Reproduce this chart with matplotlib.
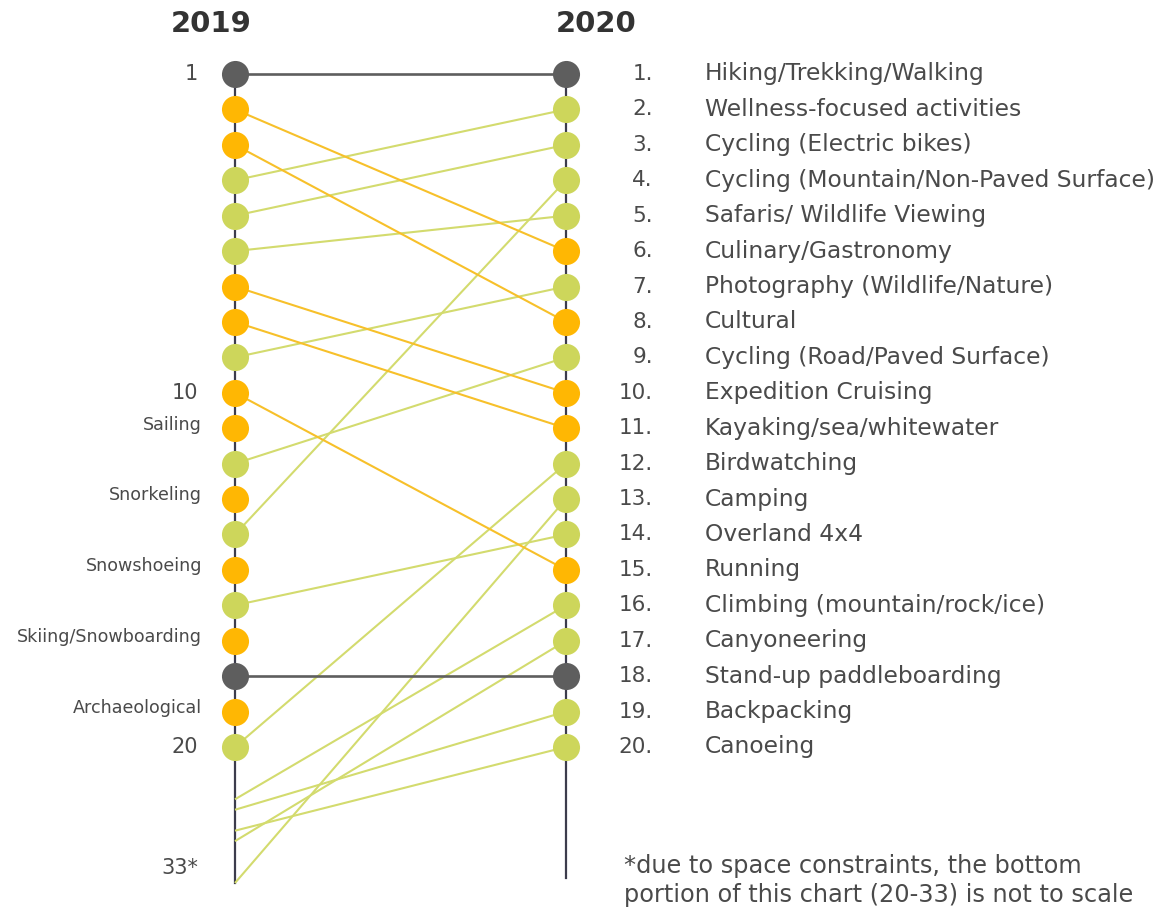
import numpy as np
import matplotlib
matplotlib.use("Agg")
import matplotlib.pyplot as plt

plt.rcParams['font.family'] = ['DejaVu Sans']

# 2020 top-20 list, with each activity's 2019 rank (ranks below 20 are estimated)
activities_2020 = [
    "Hiking/Trekking/Walking", "Wellness-focused activities", "Cycling (Electric bikes)",
    "Cycling (Mountain/Non-Paved Surface)", "Safaris/ Wildlife Viewing", "Culinary/Gastronomy",
    "Photography (Wildlife/Nature)", "Cultural", "Cycling (Road/Paved Surface)",
    "Expedition Cruising", "Kayaking/sea/whitewater", "Birdwatching", "Camping",
    "Overland 4x4", "Running", "Climbing (mountain/rock/ice)", "Canyoneering",
    "Stand-up paddleboarding", "Backpacking", "Canoeing",
]
rank_2020 = list(range(1, 21))
rank_2019 = [1, 4, 5, 14, 6, 2, 9, 3, 12, 7, 8, 20, 33, 16, 10, 25, 29, 18, 26, 28]

# 2019 top-20 entries that fell out of the 2020 top 20
dropped_names = ["Sailing", "Snorkeling", "Snowshoeing", "Skiing/Snowboarding", "Archaeological"]
dropped_rank_2019 = [11, 13, 15, 17, 19]

left_numbers = ["1", "10", "20", "33*"]
left_number_ranks = [1, 10, 20, 31.6]

footnote = ["*due to space constraints, the bottom",
            "portion of this chart (20-33) is not to scale"]

GRAY = "#5e5e5e"
ORANGE = "#ffb703"
GREEN = "#cdd65b"
ORANGE_LINE = "#f7c02a"
GREEN_LINE = "#d3db6e"
AXIS = "#3c3c4c"
TEXT = "#4a4a4a"

# ranks past 20 are squeezed ("not to scale")
S = 0.2954


def fwd(r):
    r = np.asarray(r, dtype=float)
    return np.where(r <= 20, r, 20 + (r - 20) * S)


def inv(t):
    t = np.asarray(t, dtype=float)
    return np.where(t <= 20, t, 20 + (t - 20) / S)


def colour(old, new):
    if old == new:
        return GRAY, GRAY
    if old > new:
        return GREEN, GREEN_LINE
    return ORANGE, ORANGE_LINE


fig = plt.figure(figsize=(11.63, 9.10), dpi=100)
ax = fig.add_axes([0, 0, 1, 1])
ax.set_yscale('function', functions=(fwd, inv))
ax.set_xlim(-0.710, 2.804)
ax.set_ylim(35.58, -1.089)
ax.axis('off')

# the two rank axes
ax.plot([0, 0], [1, 33], color=AXIS, lw=1.6, zorder=1)
ax.plot([1, 1], [1, 32.5], color=AXIS, lw=1.6, zorder=1)

# connecting lines
for old, new in zip(rank_2019, rank_2020):
    dot_c, line_c = colour(old, new)
    lw = 1.9 if old == new else 1.5
    ax.plot([0, 1], [old, new], color=line_c, lw=lw, zorder=2, solid_capstyle='butt')

# dots on 2019 side (only top-20)
for old, new in zip(rank_2019, rank_2020):
    dot_c, _ = colour(old, new)
    if old <= 20:
        ax.plot(0, old, 'o', color=dot_c, ms=19.5, mew=0, zorder=3)
    ax.plot(1, new, 'o', color=dot_c, ms=19.5, mew=0, zorder=3)
for r in dropped_rank_2019:
    ax.plot(0, r, 'o', color=ORANGE, ms=19.5, mew=0, zorder=3)

# titles
ax.text(-0.0725, -0.40, "2019", ha='center', va='center', fontsize=21,
        fontweight='bold', color="#333333")
ax.text(1.0906, -0.40, "2020", ha='center', va='center', fontsize=21,
        fontweight='bold', color="#333333")

# left labels
for txt, r in zip(left_numbers, left_number_ranks):
    ax.text(-0.112, r, txt, ha='right', va='center', fontsize=15, color=TEXT)
for txt, r in zip(dropped_names, dropped_rank_2019):
    ax.text(-0.10, r - 0.1, txt, ha='right', va='center', fontsize=12.6, color=TEXT)

# right list
for name, r in zip(activities_2020, rank_2020):
    ax.text(1.263, r, f"{r}.", ha='right', va='center', fontsize=15.5, color=TEXT)
    ax.text(1.420, r, name, ha='left', va='center', fontsize=16.8, color=TEXT)

fig.text(624 / 1163, 1 - 866 / 910, footnote[0], ha='left', va='center',
         fontsize=17.3, color=TEXT)
fig.text(624 / 1163, 1 - 895 / 910, footnote[1], ha='left', va='center',
         fontsize=17.3, color=TEXT)

fig.savefig("out.png", dpi=100, facecolor='white')
